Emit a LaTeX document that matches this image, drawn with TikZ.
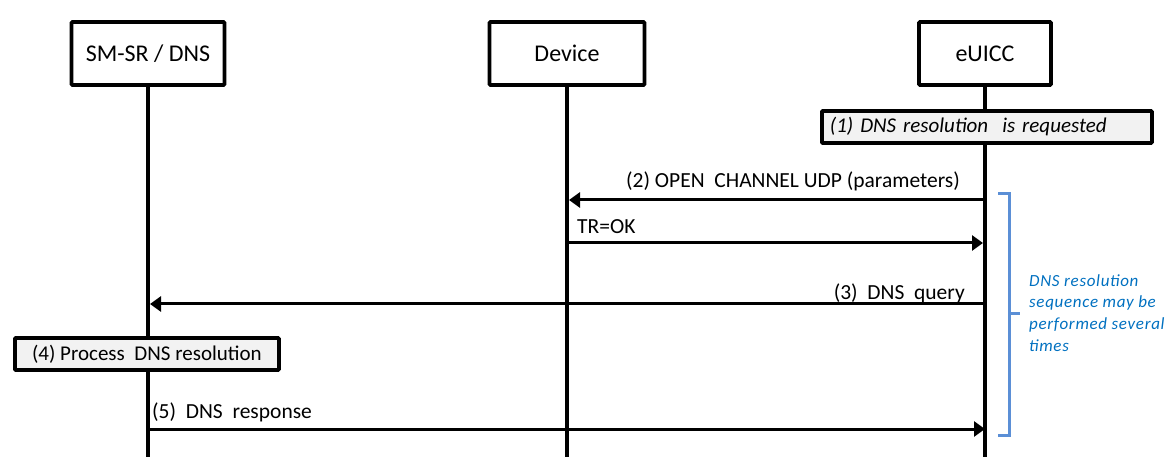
\documentclass[tikz,border=0pt]{standalone}
\usepackage{fontspec}
\setmainfont{Carlito}
\usetikzlibrary{arrows.meta}
\definecolor{boxgray}{RGB}{242,242,242}
\definecolor{bracecol}{RGB}{91,143,214}
\definecolor{notecol}{RGB}{0,112,192}
\begin{document}
\begin{tikzpicture}[x=1pt,y=-1pt,
  actor/.style={draw, line width=3.8pt, rounded corners=1pt, minimum height=63pt, font=\fontsize{24}{28}\selectfont, inner sep=0pt},
  life/.style={line width=3.5pt},
  msg/.style={line width=3pt, -{Triangle[length=11pt,width=15pt]}},
  lbl/.style={font=\fontsize{21.5}{25}\selectfont, inner sep=0pt},
  act/.style={draw, line width=3.8pt, fill=boxgray, rounded corners=1pt, minimum height=32pt, font=\fontsize{21}{25}\selectfont, inner sep=0pt},
  bracket/.style={draw=bracecol, line width=3pt},
  note/.style={text=notecol, align=left, inner sep=0pt, font=\fontsize{17}{21.7}\selectfont\itshape\addfontfeatures{LetterSpace=4}}]
\useasboundingbox (0,0) rectangle (1168,457);
% actors
\node[actor, minimum width=153pt] (sm) at (148,53.5) {SM-SR / DNS};
\node[actor, minimum width=155pt] (dev) at (567,53.5) {Device};
\node[actor, minimum width=132pt] (eu) at (985,53.5) {eUICC};
% lifeline ends
\coordinate (smE) at (148,457);
\coordinate (devE) at (567,457);
\coordinate (euE) at (985,457);
\draw[life] (sm.south) -- (smE);
\draw[life] (dev.south) -- (devE);
\draw[life] (eu.south) -- (euE);
% (1)
\node[act, anchor=west, minimum width=330pt, text width=314pt, align=left, font=\fontsize{21}{25}\selectfont\itshape] (a1) at (820,127) {(1)\ DNS resolution\ \ is requested};
% (2)
\coordinate (eu2) at (985,200);
\coordinate (dev2) at (569,200);
\draw[msg] (eu2) -- (dev2);
\node[lbl, anchor=base east] (l2) at (960,188) {(2) OPEN\ \ CHANNEL\ UDP (parameters)};
% TR=OK
\coordinate (dev3) at (567,243);
\coordinate (eu3) at (983,243);
\draw[msg] (dev3) -- (eu3);
\node[lbl, anchor=base west] (l3) at (577,234) {TR=OK};
% (3)
\coordinate (eu4) at (985,304);
\coordinate (sm4) at (150,304);
\draw[msg] (eu4) -- (sm4);
\node[lbl, anchor=base east] (l4) at (965,299) {(3)\ \ DNS\ \ query};
% (4)
\node[act, anchor=west, minimum width=264pt] (a4) at (13,354) {(4) Process\ \ DNS resolution};
% (5)
\coordinate (sm5) at (148,429);
\coordinate (eu5) at (985,429);
\draw[msg] (sm5) -- (eu5);
\node[lbl, anchor=base west] (l5) at (152,418) {(5)\ \ DNS\ \ response};
% bracket
\coordinate (bt) at (998,194);
\coordinate (btr) at (1009,194);
\coordinate (bbr) at (1009,435);
\coordinate (bb) at (998,435);
\coordinate (bm) at (1009,313);
\coordinate (bmt) at (1020,313);
\draw[bracket] (bt) -- (btr) -- (bbr) -- (bb);
\draw[bracket] (bm) -- (bmt);
\node[note, anchor=north west] (nt) at (1029,274) {DNS resolution\\sequence may be\\performed several\\times};
\end{tikzpicture}
\end{document}
